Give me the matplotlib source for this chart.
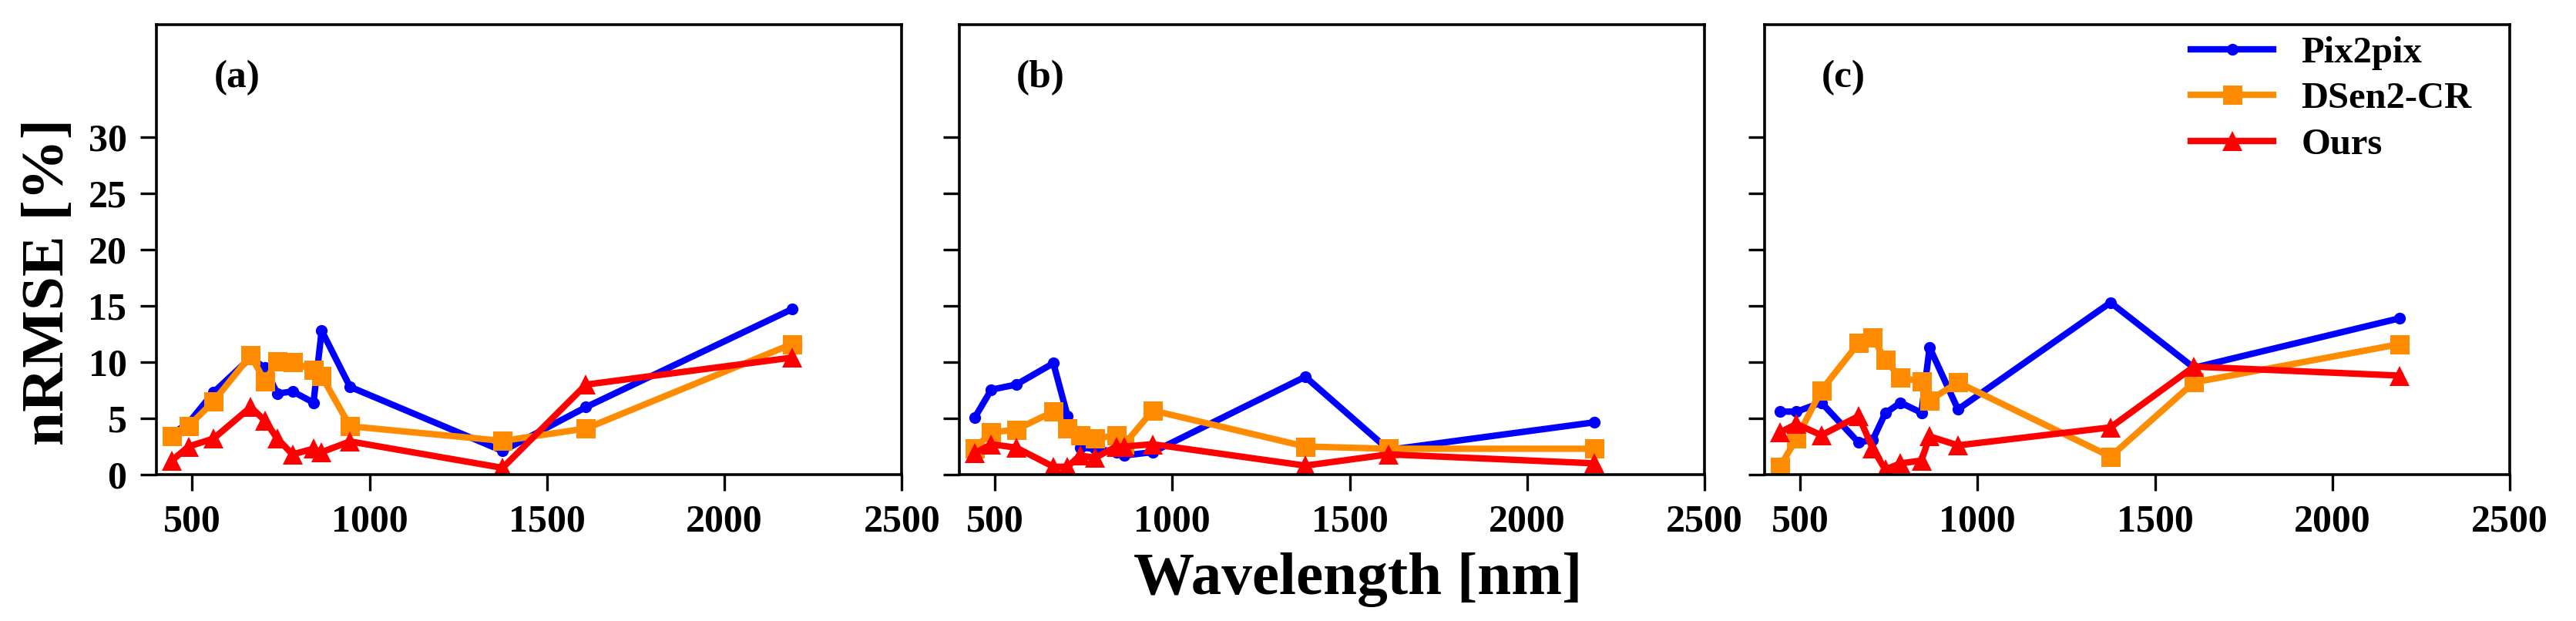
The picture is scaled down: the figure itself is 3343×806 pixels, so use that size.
import matplotlib
matplotlib.use("Agg")
import matplotlib.pyplot as plt

# ---------------- data ----------------
wavelengths = [443, 490, 560, 665, 705, 740, 783, 842, 865, 945, 1375, 1610, 2190]

pix2pix_a = [3.6, 4.6, 7.3, 10.4, 9.5, 7.2, 7.4, 6.4, 12.8, 7.8, 2.1, 6.0, 14.7]
dsen2cr_a = [3.4, 4.3, 6.5, 10.6, 8.3, 10.1, 10.0, 9.3, 8.75, 4.3, 3.0, 4.1, 11.6]
ours_a = [1.25, 2.5, 3.2, 6.0, 4.8, 3.2, 1.8, 2.3, 2.0, 2.95, 0.6, 8.0, 10.4]

pix2pix_b = [5.05, 7.55, 8.0, 9.9, 5.2, 2.4, 2.3, 2.0, 1.7, 2.0, 8.7, 2.2, 4.65]
dsen2cr_b = [2.3, 3.75, 4.0, 5.6, 4.1, 3.5, 3.2, 3.5, 2.7, 5.7, 2.5, 2.3, 2.3]
ours_b = [1.9, 2.7, 2.4, 0.7, 0.7, 1.7, 1.5, 2.5, 2.5, 2.7, 0.8, 1.8, 1.0]

pix2pix_c = [5.6, 5.6, 6.4, 2.85, 3.1, 5.45, 6.4, 5.5, 11.3, 5.8, 15.3, 9.5, 13.9]
dsen2cr_c = [0.7, 3.2, 7.5, 11.7, 12.2, 10.2, 8.6, 8.3, 6.6, 8.2, 1.6, 8.2, 11.6]
ours_c = [3.75, 4.5, 3.5, 5.2, 2.3, 0.45, 1.0, 1.25, 3.4, 2.6, 4.2, 9.6, 8.8]

panel_labels = ["(a)", "(b)", "(c)"]
series_names = ["Pix2pix", "DSen2-CR", "Ours"]
x_ticks = [500, 1000, 1500, 2000, 2500]
y_ticks = [0, 5, 10, 15, 20, 25, 30]

panels = [
    (pix2pix_a, dsen2cr_a, ours_a),
    (pix2pix_b, dsen2cr_b, ours_b),
    (pix2pix_c, dsen2cr_c, ours_c),
]

# ---------------- style ----------------
plt.rcParams["font.family"] = ["Liberation Serif", "DejaVu Serif"]
plt.rcParams["font.weight"] = "bold"

colors = ["#0000FF", "#FF8C00", "#FF0000"]
markers = ["o", "s", "^"]
msizes = [11, 18, 19]

fig = plt.figure(figsize=(33.43, 8.06), dpi=100)

lefts = [203.3 / 3343, 1245 / 3343, 2290 / 3343]
width = 967 / 3343
bottom = 1 - 616 / 806
height = (616 - 32) / 806

axes = []
for i, (left, data) in enumerate(zip(lefts, panels)):
    ax = fig.add_axes([left, bottom, width, height])
    axes.append(ax)
    for vals, col, mk, ms, name in zip(data, colors, markers, msizes, series_names):
        ax.plot(wavelengths, vals, color=col, marker=mk, markersize=ms,
                linewidth=6, label=name, markeredgewidth=0)
    ax.set_xlim(400, 2500)
    ax.set_ylim(0, 40)
    ax.set_xticks(x_ticks)
    ax.set_yticks(y_ticks)
    ax.tick_params(axis="both", direction="out", length=15, width=2.4,
                   labelsize=36, pad=13)
    for lab in ax.get_xticklabels() + ax.get_yticklabels():
        lab.set_fontweight("bold")
    if i > 0:
        ax.set_yticklabels([])
    for sp in ax.spines.values():
        sp.set_linewidth(2.6)
    ax.text(0.0765, 0.881, panel_labels[i], transform=ax.transAxes,
            fontsize=37, fontweight="bold", ha="left", va="center")

leg = axes[2].legend(loc="upper left", bbox_to_anchor=(0.572, 0.975),
                     frameon=False, borderpad=0, borderaxespad=0,
                     handlelength=2.2, handletextpad=0.75, labelspacing=0.32,
                     prop={"weight": "bold", "size": 35})

fig.text(0.019, 1 - 366 / 806, "nRMSE [%]", rotation=90, fontsize=57,
         fontweight="bold", ha="center", va="center")
fig.text(1762 / 3343, 1 - 752 / 806, "Wavelength [nm]", fontsize=57,
         fontweight="bold", ha="center", va="center")

fig.savefig("out.png", dpi=100)
